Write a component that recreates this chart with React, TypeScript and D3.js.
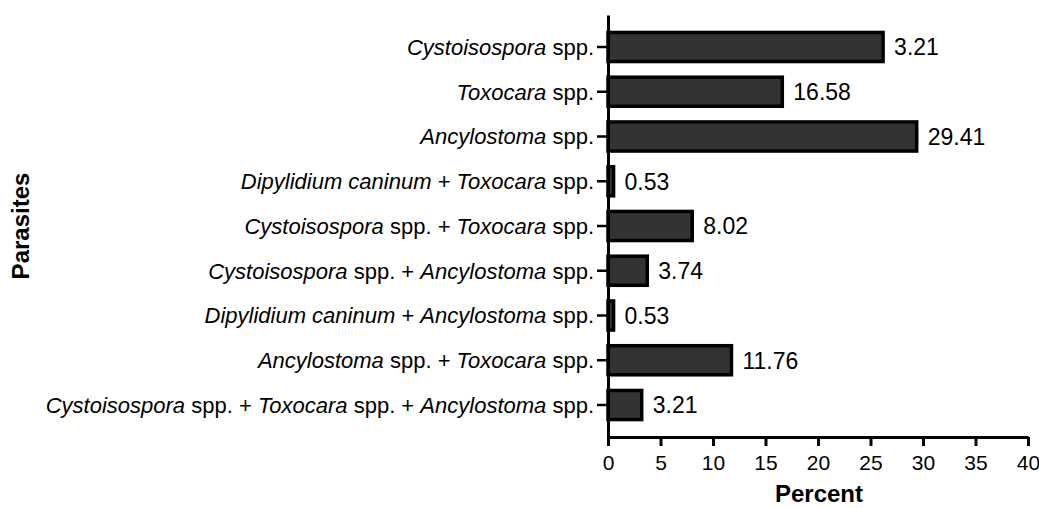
import React, { useEffect, useRef } from "react";
import * as d3 from "d3";

// parts wrapped in * are italic
const categories = [
  "*Cystoisospora* spp.",
  "*Toxocara* spp.",
  "*Ancylostoma* spp.",
  "*Dipylidium caninum* + *Toxocara* spp.",
  "*Cystoisospora* spp. + *Toxocara* spp.",
  "*Cystoisospora* spp. + *Ancylostoma* spp.",
  "*Dipylidium caninum* + *Ancylostoma* spp.",
  "*Ancylostoma* spp. + *Toxocara* spp.",
  "*Cystoisospora* spp. + *Toxocara* spp. + *Ancylostoma* spp.",
];
// bar lengths as drawn in the figure
const values = [26.2, 16.6, 29.4, 0.53, 8.02, 3.74, 0.53, 11.76, 3.21];
// printed labels next to bars
const valueLabels = ["3.21", "16.58", "29.41", "0.53", "8.02", "3.74", "0.53", "11.76", "3.21"];
const xTicks = [0, 5, 10, 15, 20, 25, 30, 35, 40];

const FONT = "Liberation Sans, Arial, sans-serif";

export default function App() {
  const ref = useRef<SVGSVGElement>(null);

  useEffect(() => {
    const svg = d3.select(ref.current);
    svg.selectAll("*").remove();

    const x = d3.scaleLinear().domain([0, 40]).range([608, 1028]);
    const y = d3.scaleBand<number>()
      .domain(d3.range(categories.length))
      .range([15, 437])
      .paddingInner(0.35)
      .paddingOuter(0.39);

    // bars
    svg.append("g").selectAll("rect")
      .data(values).enter().append("rect")
      .attr("x", x(0))
      .attr("y", (d, i) => y(i)!)
      .attr("width", d => x(d) - x(0))
      .attr("height", y.bandwidth())
      .attr("fill", "#333333")
      .attr("stroke", "#000")
      .attr("stroke-width", 3.5);

    // value labels
    svg.append("g").selectAll("text")
      .data(values).enter().append("text")
      .attr("x", d => x(d) + 11)
      .attr("y", (d, i) => y(i)! + y.bandwidth() / 2)
      .attr("dy", "0.36em")
      .attr("font-family", FONT)
      .attr("font-size", 23)
      .attr("fill", "#000")
      .text((d, i) => valueLabels[i]);

    // x axis
    const xAxis = svg.append("g")
      .attr("transform", `translate(0, 437)`)
      .call(d3.axisBottom(x).tickValues(xTicks).tickSize(9).tickPadding(9).tickSizeOuter(0));
    xAxis.select(".domain").attr("stroke", "#000").attr("stroke-width", 3);
    xAxis.selectAll(".tick line").attr("stroke", "#000").attr("stroke-width", 3);
    xAxis.selectAll(".tick text")
      .attr("font-family", FONT).attr("font-size", 21).attr("fill", "#000");

    // y axis
    const yAxis = svg.append("g")
      .attr("transform", `translate(608, 0)`)
      .call(d3.axisLeft(y).tickSize(11).tickPadding(2).tickSizeOuter(0).tickFormat(() => ""));
    yAxis.select(".domain").attr("stroke", "#000").attr("stroke-width", 3);
    yAxis.selectAll(".tick line").attr("stroke", "#000").attr("stroke-width", 2.5);

    // category labels with italic parts
    const lab = svg.append("g").selectAll("text")
      .data(categories).enter().append("text")
      .attr("x", 594)
      .attr("y", (d, i) => y(i)! + y.bandwidth() / 2)
      .attr("dy", "0.36em")
      .attr("text-anchor", "end")
      .attr("font-family", FONT)
      .attr("font-size", 22)
      .attr("fill", "#000");
    lab.each(function (d) {
      const parts = d.split("*");
      const t = d3.select(this);
      parts.forEach((p, k) => {
        if (!p) return;
        t.append("tspan")
          .attr("font-style", k % 2 === 1 ? "italic" : "normal")
          .text(p);
      });
    });

    // axis titles
    svg.append("text")
      .attr("transform", "translate(29, 226) rotate(-90)")
      .attr("text-anchor", "middle")
      .attr("font-family", FONT)
      .attr("font-weight", "bold")
      .attr("font-size", 24)
      .text("Parasites");

    svg.append("text")
      .attr("x", 819)
      .attr("y", 502)
      .attr("text-anchor", "middle")
      .attr("font-family", FONT)
      .attr("font-weight", "bold")
      .attr("font-size", 24)
      .text("Percent");
  }, []);

  return (
    <svg ref={ref} width={1039} height={508}
      style={{ position: "absolute", left: 0, top: 0, background: "#fff" }} />
  );
}
